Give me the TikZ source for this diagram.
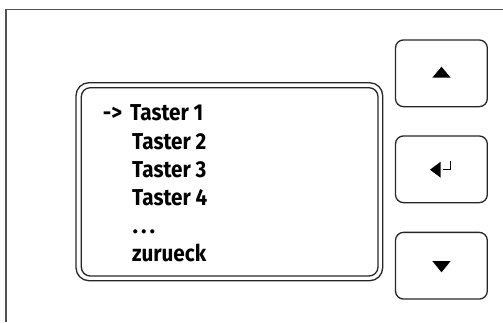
\documentclass[tikz,border=0pt]{standalone}
\usepackage{fontspec}
\setmainfont{Fira Sans}
\newcommand\condtxt[1]{\scalebox{0.9}[1]{#1}}
\begin{document}
\begin{tikzpicture}[x=1pt,y=-1pt,
  frameline/.style={draw=black!68},
  btn/.style={draw=black!85,line width=1.3pt,rounded corners=8pt},
  disp/.style={draw=black!85,line width=1.3pt},
  txt/.style={anchor=base west,inner sep=0pt,font=\fontsize{23}{27}\selectfont\bfseries,text=black},
  glyph/.style={fill=black,draw=none}]
\useasboundingbox (0,0) rectangle (503,322);
% outer frame
\coordinate (fl) at (5.8,322);
\coordinate (ftl) at (5.8,9.5);
\coordinate (fr) at (503,9.5);
\draw[frameline,line width=2pt] (fl) -- (5.8,9);
\draw[frameline,line width=0.9pt] (5,9.5) -- (fr);
% display
\draw[disp,rounded corners=13pt] (76,82.7) rectangle (382.7,280.7);
\draw[disp,rounded corners=9pt] (81.3,87.7) rectangle (378,276);
% buttons
\node[btn,minimum width=91.8pt,minimum height=66.7pt,inner sep=0pt] (bup) at (441.4,73.3) {};
\node[btn,minimum width=91.8pt,minimum height=66.7pt,inner sep=0pt] (bent) at (441.4,169.3) {};
\node[btn,minimum width=91.8pt,minimum height=66.7pt,inner sep=0pt] (bdn) at (441.4,265.7) {};
% glyphs
\fill[glyph] (432.3,77.7) -- (450.7,77.7) -- (441.5,66.7) -- cycle;
\fill[glyph] (432.3,261) -- (450.7,261) -- (441.5,272.3) -- cycle;
\fill[glyph] (440.7,161.7) -- (440.7,177.7) -- (430,169.7) -- cycle;
\draw[line width=1.4pt] (450.5,161) -- (450.5,169.3) -- (443,169.3);
% texts
\node[txt] (arr) at (102.7,120) {\condtxt{->}};
\node[txt] (t1) at (130,120) {\condtxt{Taster 1}};
\node[txt] (t2) at (132,149.3) {\condtxt{Taster 2}};
\node[txt] (t3) at (132,177.3) {\condtxt{Taster 3}};
\node[txt] (t4) at (132,205.3) {\condtxt{Taster 4}};
\node[txt] (dots) at (132.5,233.3) {.\kern3pt.\kern3pt.};
\node[txt] (zr) at (132,261.7) {\condtxt{zurueck}};
\end{tikzpicture}
\end{document}
